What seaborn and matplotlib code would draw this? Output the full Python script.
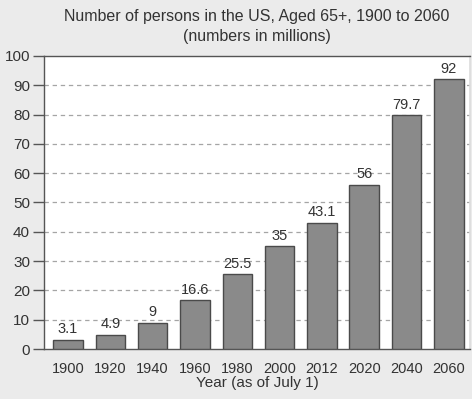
import matplotlib
matplotlib.use("Agg")
import matplotlib.pyplot as plt
import seaborn as sns
import pandas as pd

years = ["1900", "1920", "1940", "1960", "1980", "2000", "2012", "2020", "2040", "2060"]
persons = [3.1, 4.9, 9, 16.6, 25.5, 35, 43.1, 56, 79.7, 92]
value_labels = ["3.1", "4.9", "9", "16.6", "25.5", "35", "43.1", "56", "79.7", "92"]
y_ticks = [0, 10, 20, 30, 40, 50, 60, 70, 80, 90, 100]

sns.set_theme(style="white")
plt.rcParams["font.family"] = ["Liberation Sans", "DejaVu Sans"]

text_color = "#333333"
df = pd.DataFrame({"year": years, "persons": persons})

fig = plt.figure(figsize=(4.72, 3.99), dpi=100, facecolor="#ebebeb")
ax = fig.add_axes([0.093, 0.125, 0.903, 0.735])
ax.set_facecolor("white")

sns.barplot(data=df, x="year", y="persons", color="#8a8a8a", saturation=1,
            width=0.7, edgecolor="#4a4a4a", linewidth=1.0, ax=ax, zorder=3)

for i, (v, lab) in enumerate(zip(persons, value_labels)):
    ax.text(i, v + 1.3, lab, ha="center", va="bottom", fontsize=10.5, color=text_color)

ax.set_ylim(0, 100)
ax.set_xlim(-0.57, 9.5)
ax.set_yticks(y_ticks)
ax.set_yticklabels([str(t) for t in y_ticks])
for t in y_ticks[1:-1]:
    ax.axhline(t, color="#a5a5a5", linestyle=(0, (3.5, 3)), linewidth=0.9, zorder=1)

ax.tick_params(axis="y", which="both", left=True, length=8, width=1, color="#555555",
               labelsize=11, labelcolor=text_color, pad=2)
ax.tick_params(axis="x", bottom=False, labelsize=10.5, labelcolor=text_color, pad=3)

for side in ["left", "bottom", "top"]:
    ax.spines[side].set_visible(True)
    ax.spines[side].set_color("#555555")
    ax.spines[side].set_linewidth(1.0)
ax.spines["right"].set_visible(True)
ax.spines["right"].set_color("#dddddd")

ax.set_xlabel("Year (as of July 1)", fontsize=11, color=text_color, labelpad=0)
ax.set_ylabel("")
ax.set_title("Number of persons in the US, Aged 65+, 1900 to 2060\n(numbers in millions)",
             fontsize=11.5, color=text_color, pad=11, linespacing=1.35)

fig.savefig("out.png", dpi=100, facecolor=fig.get_facecolor())
